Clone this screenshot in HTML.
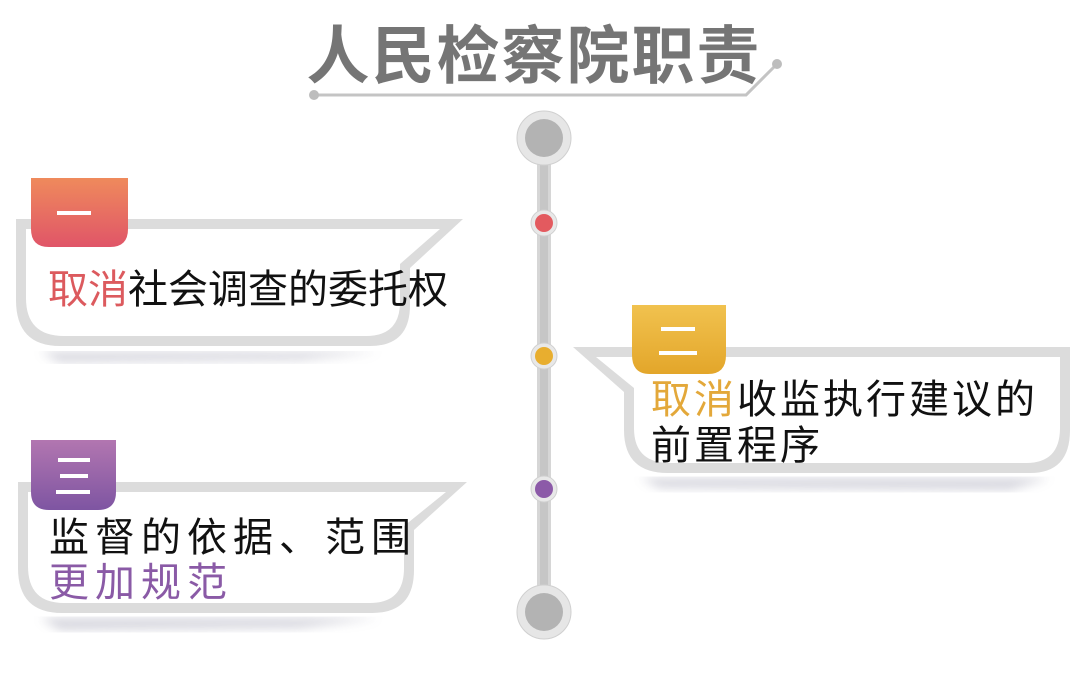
<!DOCTYPE html>
<html><head><meta charset="utf-8"><style>
html,body{margin:0;padding:0;background:#fff;}
svg{display:block;}
text{font-family:"Liberation Sans","Noto Sans CJK SC",sans-serif;}
</style></head><body>
<svg width="1080" height="674" viewBox="0 0 1080 674" xmlns="http://www.w3.org/2000/svg">
<defs>
<linearGradient id="gr" x1="0" y1="0" x2="0" y2="1"><stop offset="0" stop-color="#ef8a5c"/><stop offset="1" stop-color="#e05568"/></linearGradient>
<linearGradient id="gy" x1="0" y1="0" x2="0" y2="1"><stop offset="0" stop-color="#f1c24f"/><stop offset="1" stop-color="#e3a62a"/></linearGradient>
<linearGradient id="gp" x1="0" y1="0" x2="0" y2="1"><stop offset="0" stop-color="#b276b0"/><stop offset="1" stop-color="#7e55a2"/></linearGradient>
<filter id="sh" x="-10%" y="-10%" width="120%" height="130%"><feGaussianBlur stdDeviation="5"/></filter>
</defs>
<text x="534" y="78" text-anchor="middle" font-size="63" font-weight="bold" fill="#757575" letter-spacing="2">人民检察院职责</text>
<polyline points="314,95 746,95 777,64" fill="none" stroke="#c4c4c4" stroke-width="3"/>
<circle cx="314" cy="95" r="5" fill="#bdbdbd"/><circle cx="777" cy="64" r="5" fill="#bdbdbd"/>
<rect x="537" y="150" width="14" height="460" fill="#d6d6d6"/>
<rect x="540" y="150" width="8" height="460" fill="#c6c6c6"/>
<circle cx="544" cy="138" r="27" fill="#e6e6e6" stroke="#d0d0d0" stroke-width="1"/><circle cx="544" cy="138" r="19" fill="#b3b3b3"/>
<circle cx="544" cy="612" r="27" fill="#e6e6e6" stroke="#d0d0d0" stroke-width="1"/><circle cx="544" cy="612" r="19" fill="#b3b3b3"/>
<circle cx="544" cy="223" r="13" fill="#e8e8e8" stroke="#d0d0d0"/><circle cx="544" cy="223" r="9" fill="#e35a5f"/>
<circle cx="544" cy="356" r="13" fill="#e8e8e8" stroke="#d0d0d0"/><circle cx="544" cy="356" r="9" fill="#e8ae2f"/>
<circle cx="544" cy="489" r="13" fill="#e8e8e8" stroke="#d0d0d0"/><circle cx="544" cy="489" r="9" fill="#8c5aa8"/>
<path d="M40,352 L380,352 L300,360 L60,362 Z" fill="#8a8aa0" opacity="0.35" filter="url(#sh)"/>
<path d="M16,219 L463,219 L410,268 L410,305 Q410,346 370,346 L60,346 Q16,346 16,300 Z" fill="#dcdcdc"/>
<path d="M26,229 L440,229 L400,264 L400,302 Q400,336 366,336 L64,336 Q26,336 26,298 Z" fill="#fff"/>
<path d="M31,178 L128,178 L128,229 Q128,247 110,247 L49,247 Q31,247 31,229 Z" fill="url(#gr)"/>
<rect x="57" y="211" width="34" height="4" fill="#fff"/>
<text x="48" y="303" font-size="40"><tspan fill="#dc5a5e">取消</tspan><tspan fill="#111">社会调查的委托权</tspan></text>
<path d="M640,478 L1050,478 L1010,490 L660,488 Z" fill="#8a8aa0" opacity="0.35" filter="url(#sh)"/>
<path d="M573,347 L1070,347 L1070,430 Q1070,473 1030,473 L668,473 Q624,473 624,430 L624,392 Z" fill="#dcdcdc"/>
<path d="M596,357 L1060,357 L1060,428 Q1060,463 1026,463 L670,463 Q634,463 634,428 L634,388 Z" fill="#fff"/>
<path d="M632,305 L726,305 L726,355 Q726,374 708,374 L650,374 Q632,374 632,355 Z" fill="url(#gy)"/>
<rect x="661" y="327" width="34" height="4" fill="#fff"/><rect x="659" y="351" width="38" height="4" fill="#fff"/>
<text x="651" y="413" font-size="40" letter-spacing="3"><tspan fill="#e3a83a">取消</tspan><tspan fill="#111">收监执行建议的</tspan></text>
<text x="651" y="459" font-size="40" fill="#111" letter-spacing="3">前置程序</text>
<path d="M40,618 L380,618 L300,628 L60,630 Z" fill="#8a8aa0" opacity="0.35" filter="url(#sh)"/>
<path d="M18,482 L467,482 L414,530 L414,570 Q414,613 372,613 L62,613 Q18,613 18,568 Z" fill="#dcdcdc"/>
<path d="M28,492 L446,492 L404,526 L404,568 Q404,603 370,603 L64,603 Q28,603 28,566 Z" fill="#fff"/>
<path d="M31,440 L116,440 L116,492 Q116,510 98,510 L49,510 Q31,510 31,492 Z" fill="url(#gp)"/>
<rect x="58" y="458" width="32" height="4" fill="#fff"/><rect x="60" y="474" width="28" height="4" fill="#fff"/><rect x="56" y="490" width="34" height="4" fill="#fff"/>
<text x="49" y="551" font-size="40" fill="#111" letter-spacing="6">监督的依据、范围</text>
<text x="49" y="596" font-size="40" fill="#8a5aa6" letter-spacing="6">更加规范</text>
</svg>
</body></html>
